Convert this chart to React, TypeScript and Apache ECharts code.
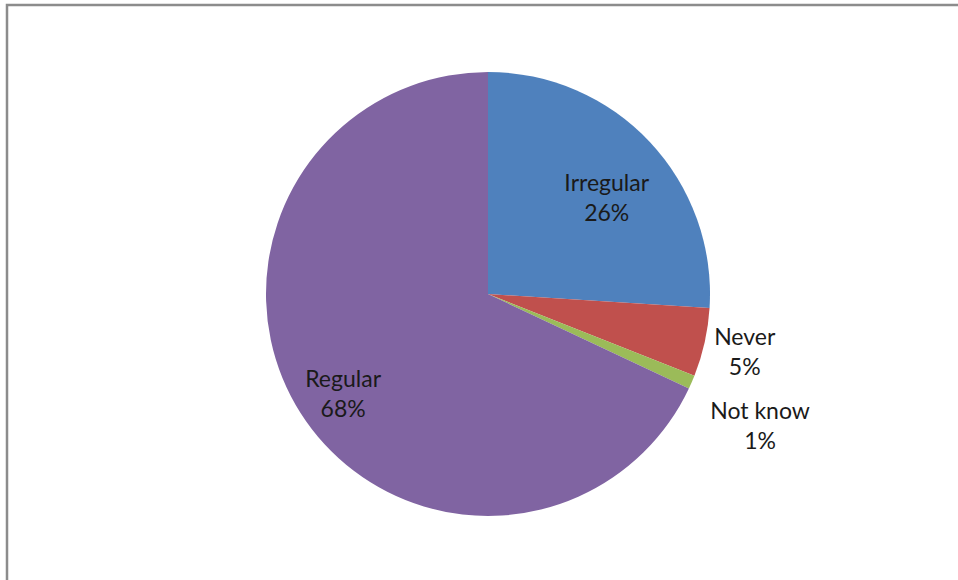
import React, { useEffect, useRef } from "react";
import * as echarts from "echarts";

const categories = ["Irregular", "Never", "Not know", "Regular"];
const values = [26, 5, 1, 68];
const colors = ["#4F81BD", "#C0504D", "#9BBB59", "#8064A2"];
// label placement (Excel best-fit): radius fraction and angle offset in degrees
const labelRadiusFrac = [0.69, 1.185, 1.36, 0.79];
const labelAngleOffset = [4, 0, 2.3, -1.9];

const CX = 488;
const CY = 294;
const R = 222;

export default function App() {
  const ref = useRef<HTMLDivElement>(null);
  useEffect(() => {
    if (!ref.current) return;
    const chart = echarts.init(ref.current, null, { renderer: "svg" });
    const total = values.reduce((a, b) => a + b, 0);
    const mids: number[] = [];
    let acc = 0;
    values.forEach((v, i) => {
      mids.push(((acc + v / 2) / total) * Math.PI * 2 + (labelAngleOffset[i] * Math.PI) / 180);
      acc += v;
    });
    chart.setOption({
      animation: false,
      backgroundColor: "#ffffff",
      graphic: [
        {
          type: "rect",
          shape: { x: 7, y: 5, width: 2000, height: 2000 },
          style: { fill: "none", stroke: "#8c8c8c", lineWidth: 2.5 },
          silent: true,
        },
      ],
      series: [
        {
          type: "pie",
          center: [CX, CY],
          radius: [0, R],
          startAngle: 90,
          clockwise: true,
          data: categories.map((c, i) => ({
            name: c,
            value: values[i],
            itemStyle: { color: colors[i] },
          })),
          label: {
            show: true,
            position: "inside",
            formatter: (p: any) => `${p.name}\n${Math.round(p.percent)}%`,
            fontFamily: "Lato",
            fontSize: 23,
            lineHeight: 30,
            color: "#1a1a1a",
            align: "center",
            verticalAlign: "middle",
          },
          labelLine: { show: false },
          labelLayout: (params: any) => {
            const i = params.dataIndex;
            const a = mids[i];
            const r = R * labelRadiusFrac[i];
            return {
              x: CX + r * Math.sin(a),
              y: CY - r * Math.cos(a),
              align: "center",
              verticalAlign: "middle",
            };
          },
          emphasis: { disabled: true },
        },
      ],
    });
    return () => chart.dispose();
  }, []);
  return (
    <div
      ref={ref}
      style={{ position: "fixed", left: 0, top: 0, width: 958, height: 580 }}
    />
  );
}
